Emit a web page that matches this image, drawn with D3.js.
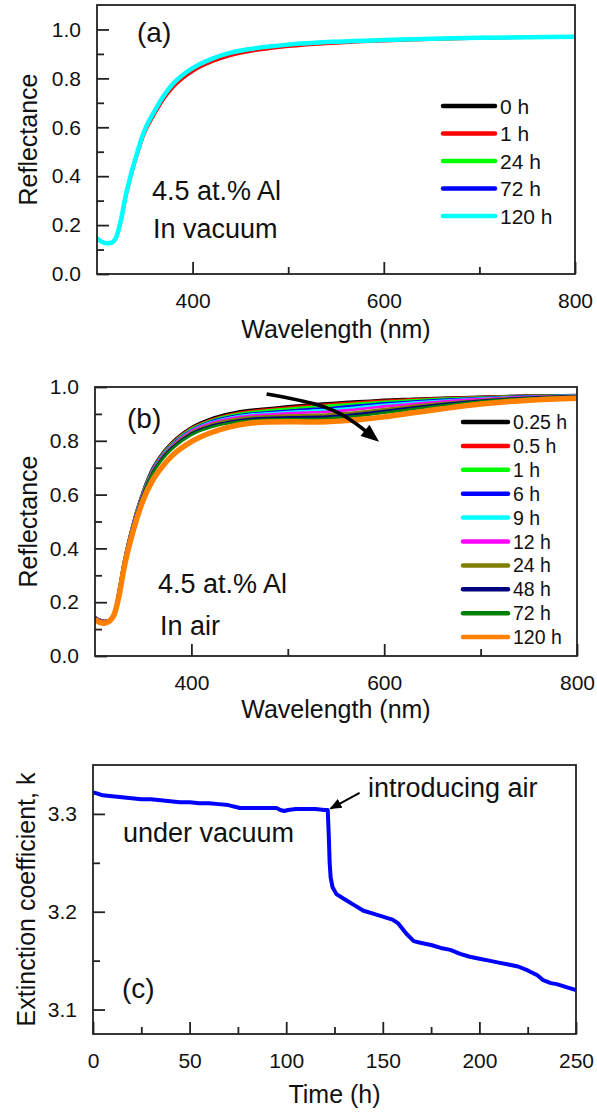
<!DOCTYPE html>
<html>
<head>
<meta charset="utf-8">
<script src="https://cdn.jsdelivr.net/npm/d3@7/dist/d3.min.js"></script>
<style>
  html, body { margin: 0; padding: 0; background: #fff; }
  svg { display: block; }
  text { font-family: "Liberation Sans", Arial, Helvetica, sans-serif; fill: #111; }
</style>
</head>
<body>
<svg id="fig" width="597" height="1118"></svg>
<script>
// ---------- Panel (a): reflectance in vacuum ----------
const wavelengthA = [300,305,310,315,320,325,330,335,340,350,360,370,380,390,400,420,440,460,480,500,550,600,650,700,750,800];
const vac0h   = [.144,.131,.125,.127,.149,.218,.318,.398,.468,.588,.663,.728,.778,.813,.840,.878,.903,.919,.929,.937,.949,.956,.962,.966,.968,.970];
const vac1h   = [.143,.131,.125,.127,.147,.212,.310,.390,.460,.578,.652,.716,.765,.800,.828,.867,.893,.910,.921,.930,.944,.953,.959,.964,.967,.969];
const vac24h  = [.144,.132,.126,.128,.149,.219,.319,.399,.469,.589,.664,.729,.779,.814,.841,.879,.904,.919,.929,.937,.949,.956,.961,.965,.968,.970];
const vac72h  = [.145,.132,.126,.128,.150,.220,.320,.400,.470,.590,.665,.730,.780,.815,.842,.880,.905,.920,.930,.938,.950,.957,.962,.966,.968,.970];
const vac120h = [.145,.132,.126,.128,.150,.220,.320,.400,.470,.590,.665,.730,.780,.815,.842,.880,.905,.920,.930,.938,.950,.957,.962,.966,.968,.970];
const labelsA = ["0 h", "1 h", "24 h", "72 h", "120 h"];
const colorsA = ["#000000", "#ff0000", "#00ff00", "#0000ff", "#00ffff"];
const seriesA = [vac0h, vac1h, vac24h, vac72h, vac120h];

// ---------- Panel (b): reflectance in air ----------
const wavelengthB = [300,305,310,315,320,325,330,340,350,360,370,380,400,420,440,460,480,500,520,540,560,580,600,630,660,700,750,800];
const air025h = [.145,.135,.130,.133,.160,.250,.350,.500,.615,.700,.755,.795,.850,.882,.902,.914,.921,.928,.934,.939,.944,.948,.952,.956,.960,.964,.968,.970];
const air05h  = [.145,.135,.130,.133,.159,.249,.349,.499,.613,.697,.752,.792,.847,.878,.898,.910,.917,.924,.930,.935,.940,.945,.949,.954,.958,.963,.967,.969];
const air1h   = [.144,.134,.129,.132,.158,.248,.348,.497,.611,.695,.750,.789,.844,.875,.894,.906,.913,.919,.925,.930,.935,.940,.945,.951,.956,.961,.966,.969];
const air6h   = [.144,.134,.129,.132,.157,.247,.347,.496,.609,.693,.747,.786,.840,.871,.889,.900,.906,.912,.917,.921,.927,.933,.939,.946,.952,.959,.965,.968];
const air9h   = [.143,.133,.128,.131,.156,.246,.346,.495,.608,.691,.745,.784,.838,.868,.886,.897,.902,.907,.911,.915,.920,.927,.934,.942,.949,.957,.964,.968];
const air12h  = [.143,.133,.128,.131,.156,.245,.345,.493,.606,.689,.743,.782,.836,.865,.883,.893,.898,.902,.905,.908,.913,.920,.928,.937,.946,.955,.963,.967];
const air24h  = [.142,.132,.127,.130,.155,.244,.343,.491,.603,.686,.740,.778,.831,.860,.877,.887,.891,.894,.896,.898,.903,.910,.918,.930,.940,.951,.961,.966];
const air48h  = [.141,.131,.126,.130,.154,.243,.341,.489,.601,.683,.736,.774,.827,.855,.871,.881,.885,.887,.888,.890,.895,.902,.911,.924,.936,.949,.960,.965];
const air72h  = [.140,.130,.125,.129,.153,.241,.339,.487,.598,.680,.732,.770,.822,.850,.866,.875,.879,.881,.881,.883,.888,.895,.904,.918,.931,.946,.958,.964];
const air120h = [.134,.125,.122,.130,.155,.225,.325,.470,.580,.655,.705,.745,.797,.830,.852,.865,.870,.871,.870,.871,.875,.881,.889,.904,.919,.937,.951,.958];
const labelsB = ["0.25 h", "0.5 h", "1 h", "6 h", "9 h", "12 h", "24 h", "48 h", "72 h", "120 h"];
const colorsB = ["#000000", "#ff0000", "#00ff00", "#0000ff", "#00ffff", "#ff00ff", "#808000", "#000080", "#008000", "#ff8000"];
const seriesB = [air025h, air05h, air1h, air6h, air9h, air12h, air24h, air48h, air72h, air120h];

// ---------- Panel (c): extinction coefficient vs time ----------
const timeC = [0,2,5,10,15,20,25,30,35,40,45,50,55,60,65,70,72,74,76,80,85,90,95,97,99,101,105,110,115,120,121.5,
               122,122.5,123,124,126,130,135,140,145,150,155,158,162,166,170,175,180,185,190,195,200,205,210,215,220,225,230,233,237,240,245,250];
const kC    = [3.322,3.321,3.319,3.318,3.317,3.316,3.315,3.315,3.314,3.313,3.312,3.312,3.311,3.311,3.310,3.309,3.308,3.307,3.306,3.306,3.306,3.306,3.306,3.304,3.303,3.304,3.305,3.305,3.305,3.304,3.304,
               3.280,3.250,3.235,3.225,3.218,3.213,3.207,3.201,3.198,3.195,3.192,3.188,3.178,3.170,3.168,3.166,3.163,3.161,3.157,3.154,3.152,3.150,3.148,3.146,3.144,3.140,3.135,3.130,3.127,3.126,3.123,3.120];

const svg = d3.select("#fig");
svg.append("rect").attr("width", 597).attr("height", 1118).attr("fill", "#fff");

// Draws a framed panel with inward ticks on the left and bottom axes.
function panel(box, xDomain, yDomain, xMajor, xMinor, yMajor, yMinor, xFmt, yFmt) {
  const w = box.right - box.left, h = box.bottom - box.top;
  const g = svg.append("g").attr("transform", `translate(${box.left},${box.top})`);
  const x = d3.scaleLinear().domain(xDomain).range([0, w]);
  const y = d3.scaleLinear().domain(yDomain).range([h, 0]);
  const plot = g.append("g");
  const clip = "clip" + Math.round(box.top);
  g.append("clipPath").attr("id", clip).append("rect").attr("width", w).attr("height", h);
  plot.attr("clip-path", `url(#${clip})`);

  const styleAxis = (sel) => {
    sel.select(".domain").remove();
    sel.selectAll(".tick line").attr("stroke", "#222").attr("stroke-width", 1.8);
    sel.selectAll(".tick text").style("font-size", "21px").attr("fill", "#111");
  };
  g.append("g").attr("transform", `translate(0,${h})`)
    .call(d3.axisBottom(x).tickValues(xMinor).tickSize(-7).tickFormat(""))
    .call(styleAxis);
  g.append("g").attr("transform", `translate(0,${h})`)
    .call(d3.axisBottom(x).tickValues(xMajor).tickSize(-12).tickPadding(19).tickFormat(xFmt))
    .call(styleAxis);
  g.append("g")
    .call(d3.axisLeft(y).tickValues(yMinor).tickSize(-7).tickFormat(""))
    .call(styleAxis);
  g.append("g")
    .call(d3.axisLeft(y).tickValues(yMajor).tickSize(-12).tickPadding(16).tickFormat(yFmt))
    .call(styleAxis);
  g.append("rect").attr("width", w).attr("height", h)
    .attr("fill", "none").attr("stroke", "#222").attr("stroke-width", 1.8);
  return { g, plot, x, y, w, h };
}

function axisTitles(p, xTitle, yTitle, xDy, yDx) {
  p.g.append("text").attr("x", p.w / 2).attr("y", p.h + xDy)
    .attr("text-anchor", "middle").style("font-size", "25px").text(xTitle);
  p.g.append("text").attr("transform", `translate(${yDx},${p.h / 2}) rotate(-90)`)
    .attr("text-anchor", "middle").style("font-size", "25px").text(yTitle);
}

function legend(p, x0, y0, dy, labels, colors, fontSize, lineLen) {
  labels.forEach((lab, i) => {
    const yy = y0 + i * dy;
    p.g.append("line").attr("x1", x0).attr("x2", x0 + lineLen).attr("y1", yy).attr("y2", yy)
      .attr("stroke", colors[i]).attr("stroke-width", 4.5).attr("stroke-linecap", "round");
    p.g.append("text").attr("x", x0 + lineLen + 5).attr("y", yy).attr("dy", "0.36em")
      .style("font-size", fontSize + "px").text(lab);
  });
}

const fmt1 = d3.format(".1f");

// ----- (a) -----
const pa = panel({ left: 97, top: 5, right: 575, bottom: 274 }, [300, 800], [0, 1.1],
  [400, 600, 800], [500, 700], [0, 0.2, 0.4, 0.6, 0.8, 1.0], [0.1, 0.3, 0.5, 0.7, 0.9], d3.format("d"), fmt1);
const lineA = d3.line().x((d, i) => pa.x(wavelengthA[i])).y(d => pa.y(d)).curve(d3.curveMonotoneX);
seriesA.forEach((s, i) => {
  pa.plot.append("path").attr("d", lineA(s)).attr("fill", "none")
    .attr("stroke", colorsA[i]).attr("stroke-width", i === 4 ? 4.5 : 3);
});
axisTitles(pa, "Wavelength (nm)", "Reflectance", 64, -60);
legend(pa, 346, 101, 27.5, labelsA, colorsA, 21, 52);
pa.g.append("text").attr("x", 40).attr("y", 37).style("font-size", "28px").text("(a)");
pa.g.append("text").attr("x", 55).attr("y", 195).style("font-size", "27px").text("4.5 at.% Al");
pa.g.append("text").attr("x", 56).attr("y", 233).style("font-size", "27px").text("In vacuum");

// ----- (b) -----
const pb = panel({ left: 95, top: 387, right: 577, bottom: 656 }, [300, 800], [0, 1.0],
  [400, 600, 800], [500, 700], [0, 0.2, 0.4, 0.6, 0.8, 1.0], [0.1, 0.3, 0.5, 0.7, 0.9], d3.format("d"), fmt1);
const lineB = d3.line().x((d, i) => pb.x(wavelengthB[i])).y(d => pb.y(d)).curve(d3.curveMonotoneX);
seriesB.forEach((s, i) => {
  pb.plot.append("path").attr("d", lineB(s)).attr("fill", "none")
    .attr("stroke", colorsB[i]).attr("stroke-width", i === 9 ? 5.5 : 2.6);
});
axisTitles(pb, "Wavelength (nm)", "Reflectance", 62, -58);
legend(pb, 368, 35, 23.9, labelsB, colorsB, 19.5, 45);
pb.g.append("text").attr("x", 32).attr("y", 41).style("font-size", "28px").text("(b)");
pb.g.append("text").attr("x", 63).attr("y", 206).style("font-size", "27px").text("4.5 at.% Al");
pb.g.append("text").attr("x", 65).attr("y", 248).style("font-size", "27px").text("In air");

// Curved arrow showing the trend with exposure time
const arrowPts = [[478, 0.974], [530, 0.935], [562, 0.885], [583, 0.83]];
const defs = svg.append("defs");
defs.append("marker").attr("id", "headB").attr("viewBox", "0 0 10 10")
  .attr("refX", 2).attr("refY", 5).attr("markerWidth", 6).attr("markerHeight", 5)
  .attr("markerUnits", "strokeWidth").attr("orient", "auto")
  .append("path").attr("d", "M0,1 L10,5 L0,9 Z").attr("fill", "#000");
pb.g.append("path")
  .attr("d", d3.line().x(d => pb.x(d[0])).y(d => pb.y(d[1])).curve(d3.curveNatural)(arrowPts))
  .attr("fill", "none").attr("stroke", "#000").attr("stroke-width", 3.6)
  .attr("marker-end", "url(#headB)");

// ----- (c) -----
const pc = panel({ left: 93, top: 765, right: 576, bottom: 1034 }, [0, 250], [3.075, 3.35],
  [0, 50, 100, 150, 200, 250], [25, 75, 125, 175, 225], [3.1, 3.2, 3.3], [3.15, 3.25], d3.format("d"), fmt1);
const lineC = d3.line().x((d, i) => pc.x(timeC[i])).y(d => pc.y(d));
pc.plot.append("path").attr("d", lineC(kC)).attr("fill", "none")
  .attr("stroke", "#0000ff").attr("stroke-width", 4).attr("stroke-linejoin", "round");
axisTitles(pc, "Time (h)", "Extinction coefficient, k", 69, -58);
pc.g.append("text").attr("x", 29).attr("y", 233).style("font-size", "28px").text("(c)");
pc.g.append("text").attr("x", 30).attr("y", 77).style("font-size", "27px").text("under vacuum");
pc.g.append("text").attr("x", 275).attr("y", 32).style("font-size", "27px").text("introducing air");
defs.append("marker").attr("id", "headC").attr("viewBox", "0 0 10 10")
  .attr("refX", 9).attr("refY", 5).attr("markerWidth", 6).attr("markerHeight", 6)
  .attr("markerUnits", "strokeWidth").attr("orient", "auto")
  .append("path").attr("d", "M0,0.8 L10,5 L0,9.2 Z").attr("fill", "#000");
pc.g.append("line")
  .attr("x1", pc.x(138)).attr("y1", pc.y(3.3214))
  .attr("x2", pc.x(123)).attr("y2", pc.y(3.3055))
  .attr("stroke", "#000").attr("stroke-width", 2).attr("marker-end", "url(#headC)");
</script>
</body>
</html>
